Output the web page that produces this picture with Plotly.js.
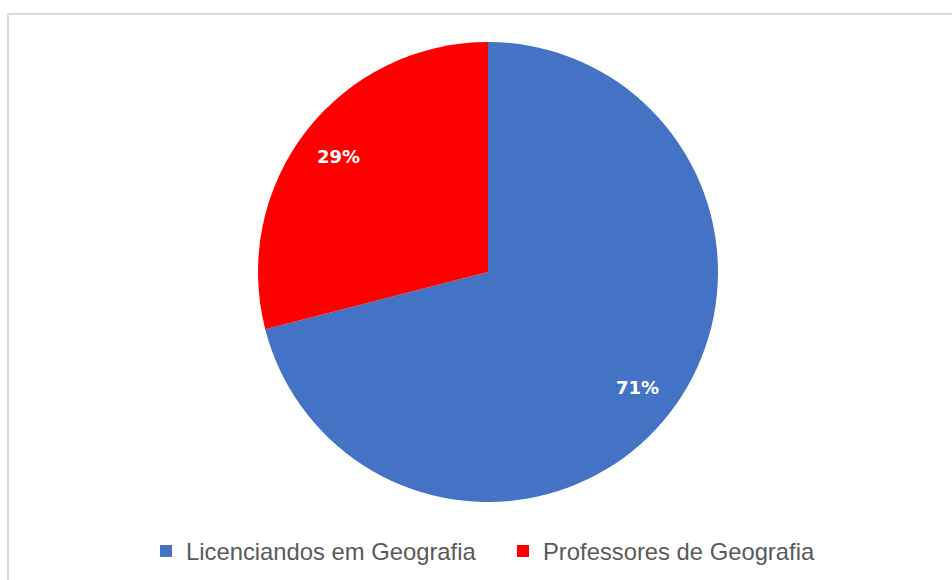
<!DOCTYPE html>
<html>
<head>
<meta charset="utf-8">
<script src="https://cdn.plot.ly/plotly-3.0.1.min.js"></script>
<style>html,body{margin:0;padding:0;background:#fff;}#chart{width:952px;height:580px;}</style>
</head>
<body>
<div id="chart"></div>
<script>
const categories = ["Licenciandos em Geografia", "Professores de Geografia"];
const values = [71, 29];
const labelsText = ["71%", "29%"];
const colors = ["#4472C4", "#FF0000"];

const W = 952, H = 580;
const cx = 488, cy = 272, R = 230;
const domX = [(cx - R) / W, (cx + R) / W];
const domY = [1 - (cy + R) / H, 1 - (cy - R) / H];

const total = values.reduce((a, b) => a + b, 0);
let cum = 0;
const annotations = values.map((v, i) => {
  const mid = (cum + v / 2) / total * 2 * Math.PI;
  cum += v;
  const r = 0.82 * R;
  return {
    xref: "paper", yref: "paper",
    x: (cx + r * Math.sin(mid)) / W,
    y: 1 - (cy - r * Math.cos(mid)) / H,
    text: labelsText[i], showarrow: false,
    xanchor: "center", yanchor: "middle",
    font: {family: "DejaVu Sans", size: 18, color: "#ffffff", weight: "bold"}
  };
});

const trace = {
  type: "pie",
  labels: categories,
  values: values,
  sort: false,
  direction: "clockwise",
  rotation: 0,
  marker: {colors: colors, line: {width: 0}},
  textinfo: "none",
  hoverinfo: "none",
  domain: {x: domX, y: domY}
};

const layout = {
  width: W, height: H,
  margin: {l: 0, r: 0, t: 0, b: 0},
  paper_bgcolor: "#ffffff",
  showlegend: true,
  legend: {
    orientation: "h",
    x: 146 / W, xanchor: "left",
    y: 1 - 551 / H, yanchor: "middle",
    entrywidth: 312, entrywidthmode: "pixels",
    font: {family: "Liberation Sans, Arial, sans-serif", size: 23.8, color: "#595959"},
    traceorder: "normal",
    itemclick: false
  },
  annotations: annotations,
  shapes: [{
    type: "rect", xref: "paper", yref: "paper",
    x0: 8 / W, x1: 1.02, y0: -0.02, y1: 1 - 14 / H,
    line: {color: "#d9d9d9", width: 2}, fillcolor: "rgba(0,0,0,0)", layer: "below"
  }]
};

Plotly.newPlot("chart", [trace], layout, {displayModeBar: false, staticPlot: true});
</script>
</body>
</html>
